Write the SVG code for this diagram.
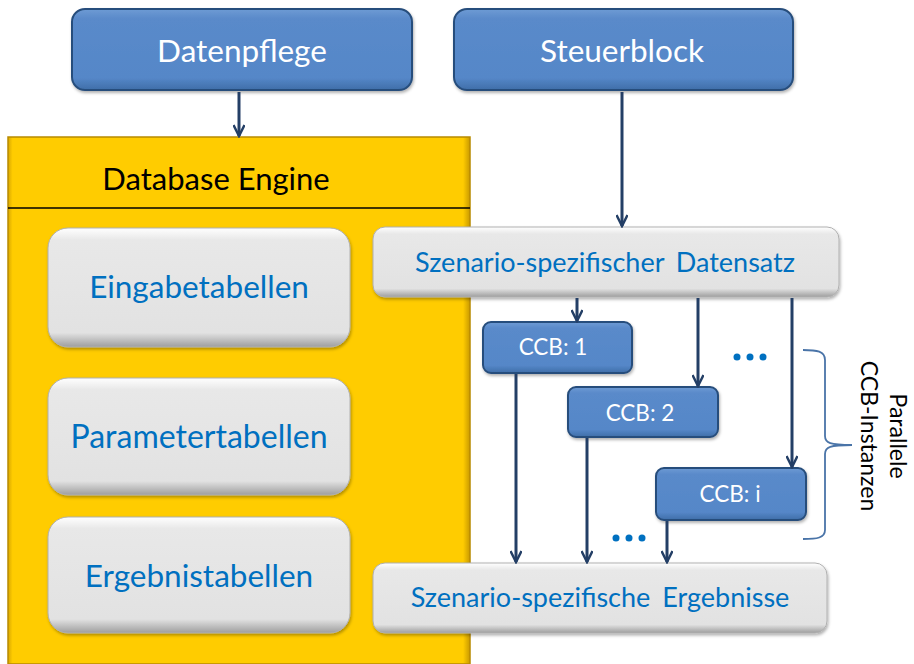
<svg xmlns="http://www.w3.org/2000/svg" width="914" height="664" viewBox="0 0 914 664">
<style>
.blue{fill:url(#gBlue);stroke:#284E7C;stroke-width:2}
.gray{fill:url(#gGray);stroke:#B0B0B0;stroke-width:1}
.tw{font-family:Lato,"Liberation Sans",sans-serif;fill:#FFFFFF;text-anchor:middle}
.tb{font-family:Lato,"Liberation Sans",sans-serif;fill:#0070C0;text-anchor:middle}
.tk{font-family:Lato,"Liberation Sans",sans-serif;fill:#000000;text-anchor:middle}
.con{stroke:#243F66;stroke-width:3;fill:none;marker-end:url(#arr)}
</style>
<defs>
<linearGradient id="gBlue" x1="0" y1="0" x2="0" y2="1">
<stop offset="0" stop-color="#6E9BD4"/>
<stop offset="0.12" stop-color="#5A8ACA"/>
<stop offset="0.85" stop-color="#5587C8"/>
<stop offset="1" stop-color="#3F6EA8"/>
</linearGradient>
<linearGradient id="gGray" x1="0" y1="0" x2="0" y2="1">
<stop offset="0" stop-color="#FFFFFF"/>
<stop offset="0.1" stop-color="#E8E8E8"/>
<stop offset="0.88" stop-color="#E2E2E2"/>
<stop offset="1" stop-color="#9E9E9E"/>
</linearGradient>
<linearGradient id="gYel" x1="0" y1="0" x2="1" y2="0">
<stop offset="0" stop-color="#D9A800"/>
<stop offset="0.01" stop-color="#FFCC00"/>
<stop offset="0.985" stop-color="#FFCC00"/>
<stop offset="1" stop-color="#C99A00"/>
</linearGradient>
<filter id="sh" x="-10%" y="-10%" width="120%" height="130%">
<feDropShadow dx="1" dy="2" stdDeviation="1.5" flood-color="#000" flood-opacity="0.3"/>
</filter>
<marker id="arr" markerUnits="userSpaceOnUse" viewBox="0 0 14 12" markerWidth="14" markerHeight="12" refX="12" refY="6" orient="auto">
<path d="M1,0.5 L12,6 L1,11.5" fill="none" stroke="#243F66" stroke-width="2.5"/>
</marker>
</defs>

<g id="database-engine">
<rect x="8" y="137" width="462" height="527" fill="url(#gYel)" stroke="#B88A00" stroke-width="1.5"/>
<line x1="8" y1="208" x2="470" y2="208" stroke="#000" stroke-width="1.5"/>
<text class="tk" x="216" y="190" font-size="31">Database Engine</text>
</g>

<g id="datenpflege">
<rect class="blue" x="72" y="9" width="340" height="81" rx="13" filter="url(#sh)"/>
<text class="tw" x="242" y="62" font-size="31.5">Datenpflege</text>
</g>

<g id="steuerblock">
<rect class="blue" x="454" y="9" width="339" height="81" rx="13" filter="url(#sh)"/>
<text class="tw" x="622" y="62" font-size="31.5">Steuerblock</text>
</g>

<g id="eingabetabellen">
<rect class="gray" x="48" y="228" width="302" height="119" rx="20" filter="url(#sh)"/>
<text class="tb" x="199" y="298" font-size="31.5">Eingabetabellen</text>
</g>

<g id="parametertabellen">
<rect class="gray" x="48" y="378" width="302" height="117" rx="20" filter="url(#sh)"/>
<text class="tb" x="199" y="448" font-size="32">Parametertabellen</text>
</g>

<g id="ergebnistabellen">
<rect class="gray" x="48" y="517" width="302" height="116" rx="20" filter="url(#sh)"/>
<text class="tb" x="199" y="587" font-size="31.5">Ergebnistabellen</text>
</g>

<g id="datensatz">
<rect class="gray" x="373" y="227" width="466" height="70" rx="12" filter="url(#sh)"/>
<text class="tb" x="605" y="272" font-size="27" word-spacing="5">Szenario-spezifischer Datensatz</text>
</g>

<g id="ergebnisse">
<rect class="gray" x="373" y="563" width="454" height="70" rx="12" filter="url(#sh)"/>
<text class="tb" x="600" y="607" font-size="27" word-spacing="5">Szenario-spezifische Ergebnisse</text>
</g>

<g id="ccb1">
<rect class="blue" x="483" y="322" width="149" height="51" rx="8" filter="url(#sh)"/>
<text class="tw" x="553" y="355" font-size="22.5">CCB: 1</text>
</g>

<g id="ccb2">
<rect class="blue" x="568" y="387" width="150" height="50" rx="8" filter="url(#sh)"/>
<text class="tw" x="640" y="421" font-size="22.5">CCB: 2</text>
</g>

<g id="ccbi">
<rect class="blue" x="656" y="468" width="150" height="52" rx="8" filter="url(#sh)"/>
<text class="tw" x="730" y="502" font-size="22.5">CCB: i</text>
</g>

<g id="connectors">
<line class="con" x1="239" y1="92" x2="239" y2="136"/>
<line class="con" x1="622" y1="92" x2="622" y2="226"/>
<line class="con" x1="577" y1="298" x2="577" y2="321"/>
<line class="con" x1="698" y1="298" x2="698" y2="386"/>
<line class="con" x1="792" y1="298" x2="792" y2="467"/>
<line class="con" x1="516" y1="374" x2="516" y2="562"/>
<line class="con" x1="587" y1="438" x2="587" y2="562"/>
<line class="con" x1="667" y1="521" x2="667" y2="562"/>
</g>

<g id="ellipses" fill="#0070C0">
<circle cx="737" cy="357" r="3.5"/>
<circle cx="750" cy="357" r="3.5"/>
<circle cx="763" cy="357" r="3.5"/>
<circle cx="616" cy="538" r="3.5"/>
<circle cx="629" cy="538" r="3.5"/>
<circle cx="642" cy="538" r="3.5"/>
</g>

<g id="brace">
<path d="M803,350 C817,350 825,351 825,360 L825,436 C825,443 830,445 852,445 C830,445 825,447 825,454 L825,530 C825,538 817,539 803,539" fill="none" stroke="#4A74A8" stroke-width="1.8"/>
<g transform="translate(890,436) rotate(90)">
<text class="tk" x="0" y="0" font-size="23">Parallele</text>
</g>
<g transform="translate(861,436) rotate(90)">
<text class="tk" x="0" y="0" font-size="23">CCB-Instanzen</text>
</g>
</g>
</svg>
